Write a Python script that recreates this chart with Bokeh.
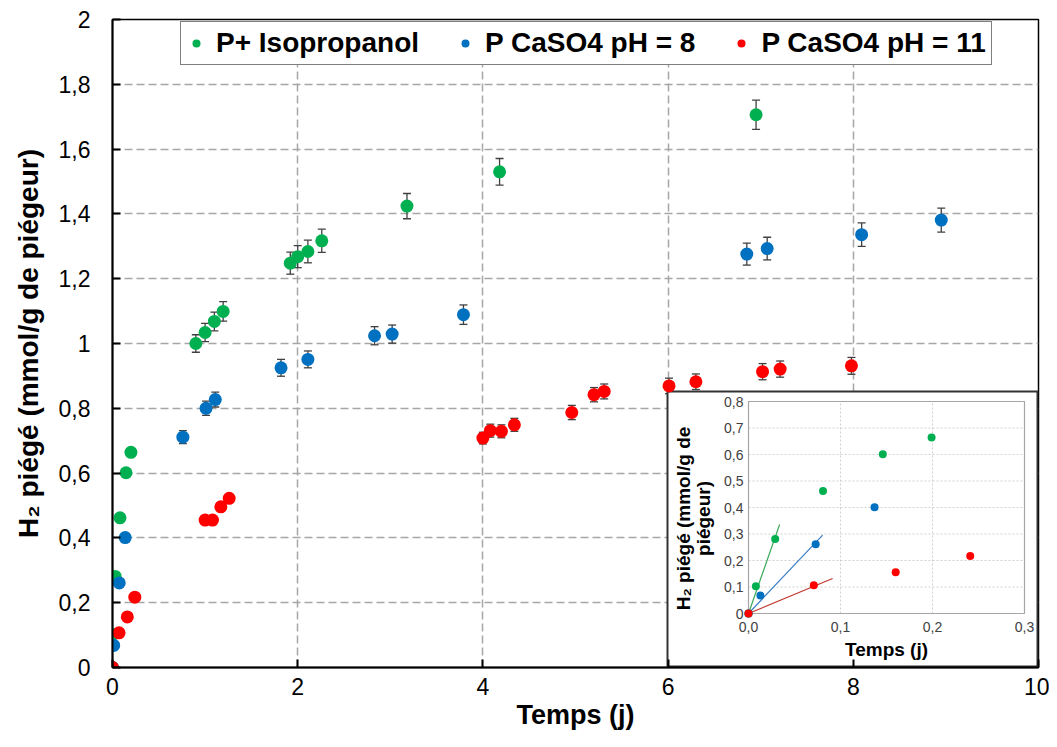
import math
from bokeh.plotting import figure
from bokeh.models import (ColumnDataSource, Whisker, TeeHead, FixedTicker, Legend,
                          LegendItem, Range1d, LinearAxis, BoxAnnotation)
from bokeh.core.properties import value
from bokeh.embed import file_html
from bokeh.resources import INLINE

# ---------------- data ----------------
series_names = ["P+ Isopropanol", "P CaSO4 pH = 8", "P CaSO4 pH = 11"]
series_colors = ["#00B050", "#0070C0", "#FF0000"]

green_x = [0.0, 0.008, 0.029, 0.081, 0.146, 0.199, 0.90, 1.00, 1.10, 1.195, 1.92, 2.00, 2.11, 2.26, 3.18, 4.18, 6.95]
green_y = [0.0, 0.103, 0.281, 0.462, 0.601, 0.664, 1.000, 1.034, 1.068, 1.099, 1.248, 1.268, 1.284, 1.317, 1.424, 1.530, 1.706]
green_err = [0, 0, 0, 0, 0, 0, 0.027, 0.028, 0.029, 0.030, 0.034, 0.034, 0.035, 0.036, 0.039, 0.041, 0.045]

blue_x = [0.0, 0.013, 0.073, 0.137, 0.76, 1.01, 1.11, 1.82, 2.11, 2.83, 3.02, 3.79, 6.85, 7.07, 8.09, 8.95]
blue_y = [0.0, 0.068, 0.261, 0.401, 0.711, 0.800, 0.827, 0.925, 0.951, 1.024, 1.029, 1.089, 1.276, 1.293, 1.336, 1.381]
blue_err = [0, 0, 0, 0, 0.020, 0.022, 0.023, 0.026, 0.026, 0.028, 0.028, 0.030, 0.034, 0.035, 0.036, 0.037]

red_x = [0.0, 0.071, 0.160, 0.241, 1.00, 1.08, 1.17, 1.26, 4.00, 4.08, 4.20, 4.34, 4.96, 5.20, 5.31, 6.01, 6.30, 7.02, 7.21, 7.98]
red_y = [0.0, 0.107, 0.156, 0.217, 0.455, 0.455, 0.496, 0.522, 0.708, 0.731, 0.729, 0.749, 0.787, 0.842, 0.852, 0.869, 0.882, 0.913, 0.921, 0.931]
red_err = [0, 0, 0, 0, 0, 0, 0, 0, 0.018, 0.020, 0.020, 0.020, 0.022, 0.022, 0.023, 0.024, 0.024, 0.025, 0.025, 0.026]

# initial-slope lines of the inset (from origin to end point)
trend_end_x = [0.0338, 0.0806, 0.0914]
trend_end_y = [0.336, 0.296, 0.132]
trend_colors = ["#3DAA5C", "#3A7DC4", "#C0392B"]

main_x_ticks = [0, 2, 4, 6, 8, 10]
main_x_labels = ["0", "2", "4", "6", "8", "10"]
main_y_ticks = [0, 0.2, 0.4, 0.6, 0.8, 1, 1.2, 1.4, 1.6, 1.8, 2]
main_y_labels = ["0", "0,2", "0,4", "0,6", "0,8", "1", "1,2", "1,4", "1,6", "1,8", "2"]
inset_x_ticks = [0, 0.1, 0.2, 0.3]
inset_x_labels = ["0,0", "0,1", "0,2", "0,3"]
inset_y_ticks = [0, 0.1, 0.2, 0.3, 0.4, 0.5, 0.6, 0.7, 0.8]
inset_y_labels = ["0", "0,1", "0,2", "0,3", "0,4", "0,5", "0,6", "0,7", "0,8"]
inset_x_title = "Temps (j)"
inset_y_title = ["H\u2082 piégé (mmol/g de", "piégeur)"]

all_x = [green_x, blue_x, red_x]
all_y = [green_y, blue_y, red_y]
all_e = [green_err, blue_err, red_err]

FONT = "Liberation Sans"

# ---------------- layout constants (canvas pixels) ----------------
W, H = 1049, 745
FR_L, FR_R, FR_T, FR_B = 112, 1038, 19, 667          # main frame
BOX_L, BOX_R, BOX_T, BOX_B = 667, 1037, 391, 666     # inset outer box
IN_L, IN_R, IN_T, IN_B = 748, 1024, 401, 613         # inset plotting area

# ---------------- main figure ----------------
p = figure(width=W, height=H, x_range=Range1d(0, 10), y_range=Range1d(0, 2),
           output_backend="svg", toolbar_location=None,
           min_border_left=FR_L, min_border_right=W - FR_R, min_border_top=FR_T,
           min_border_bottom=H - FR_B)
p.background_fill_color = "white"
p.border_fill_color = "white"
p.outline_line_color = "black"
p.outline_line_width = 1.5

for ax in (p.xaxis[0], p.yaxis[0]):
    ax.axis_line_color = "black"
    ax.axis_line_width = 2
    ax.major_tick_in = 8
    ax.major_tick_out = 0
    ax.major_tick_line_color = "black"
    ax.major_tick_line_width = 2
    ax.minor_tick_line_color = None
    ax.major_label_text_font = FONT
    ax.major_label_text_font_size = "23px"
    ax.major_label_text_color = "black"
    ax.axis_label_text_font = FONT
    ax.axis_label_text_font_style = "bold"
    ax.axis_label_text_color = "black"

p.xaxis.ticker = FixedTicker(ticks=main_x_ticks)
p.xaxis.major_label_overrides = dict(zip(main_x_ticks, main_x_labels))
p.yaxis.ticker = FixedTicker(ticks=main_y_ticks)
p.yaxis.major_label_overrides = dict(zip(main_y_ticks, main_y_labels))
p.xaxis.axis_label = "Temps (j)"
p.yaxis.axis_label = "H\u2082 piégé (mmol/g de piégeur)"
p.xaxis.axis_label_text_font_size = "27px"
p.yaxis.axis_label_text_font_size = "28px"
p.xaxis.major_label_standoff = 10
p.xaxis.axis_label_standoff = 2
p.yaxis.major_label_standoff = 22
p.yaxis.axis_label_standoff = 12

p.xgrid.ticker = FixedTicker(ticks=main_x_ticks)
p.ygrid.ticker = FixedTicker(ticks=main_y_ticks)
for g in (p.xgrid[0], p.ygrid[0]):
    g.grid_line_color = "#A6A6A6"
    g.grid_line_width = 1.5
    g.grid_line_dash = "8 4"

for xs, ys, es in zip(all_x, all_y, all_e):
    idx = [i for i, e in enumerate(es) if e > 0]
    esrc = ColumnDataSource(dict(x=[xs[i] for i in idx],
                                 upper=[ys[i] + es[i] for i in idx],
                                 lower=[ys[i] - es[i] for i in idx]))
    w = Whisker(source=esrc, base="x", upper="upper", lower="lower", dimension="height",
                line_color="#404040", line_width=1.3, level="underlay",
                upper_head=TeeHead(size=8, line_color="#404040", line_width=1.3),
                lower_head=TeeHead(size=8, line_color="#404040", line_width=1.3))
    p.add_layout(w)

renderers = []
for xs, ys, col in zip(all_x, all_y, series_colors):
    r = p.scatter(xs, ys, size=13, fill_color=col, line_color=col, line_width=0)
    renderers.append(r)

legend = Legend(items=[LegendItem(label=n, renderers=[r]) for n, r in zip(series_names, renderers)],
                orientation="horizontal", location=(68, 602),
                label_text_font=FONT, label_text_font_size="28px", label_text_font_style="bold",
                label_text_color="black", border_line_color="black", border_line_width=1.5,
                background_fill_color="white", background_fill_alpha=1.0,
                padding=5, spacing=36, label_standoff=10, glyph_width=20, glyph_height=20,
                margin=0)
p.add_layout(legend)

# ---------------- inset (drawn in the same canvas on its own scales) ----------------
ix0, ix1 = inset_x_ticks[0], inset_x_ticks[-1]
iy0, iy1 = inset_y_ticks[0], inset_y_ticks[-1]
kx = (ix1 - ix0) / (IN_R - IN_L)
ky = (iy1 - iy0) / (IN_B - IN_T)
p.extra_x_ranges = {"ix": Range1d(ix0 - (IN_L - FR_L) * kx, ix1 + (FR_R - IN_R) * kx)}
p.extra_y_ranges = {"iy": Range1d(iy0 - (FR_B - IN_B) * ky, iy1 + (IN_T - FR_T) * ky)}
IR = dict(x_range_name="ix", y_range_name="iy")

box = BoxAnnotation(left=BOX_L, right=BOX_R, top=BOX_T, bottom=BOX_B,
                    left_units="canvas", right_units="canvas", top_units="canvas",
                    bottom_units="canvas", fill_color="white", fill_alpha=1.0,
                    line_color="#333333", line_alpha=1.0, line_width=2, level="underlay")
p.add_layout(box)

# inset grid
gx = inset_x_ticks[1:-1]
gy = inset_y_ticks[1:-1]
p.segment(x0=gx, y0=[iy0] * len(gx), x1=gx, y1=[iy1] * len(gx),
          line_color="#D0D0D0", line_width=1, line_dash="2 2", **IR)
p.segment(x0=[ix0] * len(gy), y0=gy, x1=[ix1] * len(gy), y1=gy,
          line_color="#D0D0D0", line_width=1, line_dash="2 2", **IR)
p.quad(left=[ix0], right=[ix1], bottom=[iy0], top=[iy1], fill_color=None,
       line_color="#A6A6A6", line_width=1.2, **IR)

for ex, ey, col in zip(trend_end_x, trend_end_y, trend_colors):
    p.line([0, ex], [0, ey], line_color=col, line_width=1.2, **IR)
for xs, ys, col in zip(all_x, all_y, series_colors):
    keep = [i for i in range(len(xs)) if ix0 <= xs[i] <= ix1 and iy0 <= ys[i] <= iy1]
    p.scatter([xs[i] for i in keep], [ys[i] for i in keep], size=8,
              fill_color=col, line_color=col, line_width=0, **IR)

# inset tick labels: axes pinned inside the frame
ax_ix = LinearAxis(fixed_location=iy0, ticker=FixedTicker(ticks=inset_x_ticks), **IR)
ax_ix.major_label_overrides = dict(zip(inset_x_ticks, inset_x_labels))
ax_iy = LinearAxis(fixed_location=ix0, ticker=FixedTicker(ticks=inset_y_ticks), **IR)
ax_iy.major_label_overrides = dict(zip(inset_y_ticks, inset_y_labels))
for ax in (ax_ix, ax_iy):
    ax.axis_line_color = None
    ax.major_tick_line_color = None
    ax.minor_tick_line_color = None
    ax.major_tick_in = 0
    ax.major_tick_out = 0
    ax.major_label_text_font = FONT
    ax.major_label_text_font_size = "14px"
    ax.major_label_text_color = "#404040"
ax_ix.major_label_standoff = 8
ax_iy.major_label_standoff = 5
p.add_layout(ax_ix, "below")
p.add_layout(ax_iy, "left")

# inset axis titles
p.text(x=[(ix0 + ix1) / 2], y=[iy0], text=[inset_x_title], y_offset=25,
       text_align="center", text_baseline="top", text_font=value(FONT),
       text_font_size=value("19px"), text_font_style="bold", text_color="black", **IR)
ysrc = ColumnDataSource(dict(x=[ix0, ix0], y=[(iy0 + iy1) / 2] * 2, t=inset_y_title, off=[-65, -45]))
p.text(x="x", y="y", text="t", x_offset="off", y_offset=11, source=ysrc, angle=math.pi / 2,
       text_align="center", text_baseline="middle", text_font=value(FONT),
       text_font_size=value("19px"), text_font_style="bold", text_color="black", **IR)

open("out.html", "w").write(file_html(p, INLINE))
